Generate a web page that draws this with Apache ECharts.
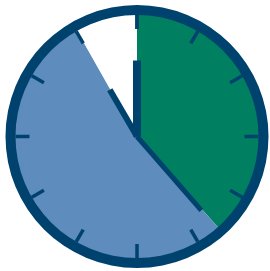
<!DOCTYPE html>
<html>
<head>
<meta charset="utf-8">
<script src="https://cdn.jsdelivr.net/npm/echarts@6/dist/echarts.min.js"></script>
<style>
  html, body { margin: 0; padding: 0; background: #fff; }
  #main { width: 270px; height: 271px; }
</style>
</head>
<body>
<div id="main"></div>
<script>
// slices, clockwise from 12 o'clock (percent)
var sliceNames = ['A', 'B', 'C'];
var sliceValues = [38.4, 53.4, 8.2];
// clock hands (position in percent of the dial)
var handNames = ['long', 'short', 'upright'];
var handValues = [38.6, 91.6, 0];

var navy = '#00426e';
var colors = ['#008061', '#5e8cbd', '#ffffff'];
var center = [137, 136.5];

var chart = echarts.init(document.getElementById('main'), null, { renderer: 'canvas' });

var pieData = sliceNames.map(function (n, i) {
  return { name: n, value: sliceValues[i], itemStyle: { color: colors[i] } };
});

// hand styles: [length, width]
var handStyle = [[98, 5], [54, 6], [76, 8]];

function handSeries(i, drawDial) {
  return {
    type: 'gauge',
    z: 5,
    center: center,
    radius: 131.5,
    startAngle: 90,
    endAngle: -270,
    min: 0,
    max: 100,
    splitNumber: 12,
    animation: false,
    axisLine: {
      show: drawDial,
      lineStyle: { width: 10, color: [[1, navy]] }
    },
    splitLine: {
      show: drawDial,
      distance: 0,
      length: 14,
      lineStyle: { color: navy, width: 3.5, cap: 'butt' }
    },
    axisTick: { show: false },
    axisLabel: { show: false },
    anchor: { show: false },
    title: { show: false },
    detail: { show: false },
    pointer: {
      icon: 'rect',
      length: handStyle[i][0],
      width: handStyle[i][1],
      offsetCenter: [0, 0],
      itemStyle: { color: navy }
    },
    data: [{ name: handNames[i], value: handValues[i] }]
  };
}

var option = {
  backgroundColor: '#ffffff',
  series: [
    {
      type: 'pie',
      z: 1,
      center: center,
      radius: [0, 123],
      startAngle: 90,
      clockwise: true,
      silent: true,
      animation: false,
      label: { show: false },
      labelLine: { show: false },
      itemStyle: { borderWidth: 0 },
      data: pieData
    },
    handSeries(0, true),
    handSeries(1, false),
    handSeries(2, false)
  ]
};
chart.setOption(option);
</script>
</body>
</html>
